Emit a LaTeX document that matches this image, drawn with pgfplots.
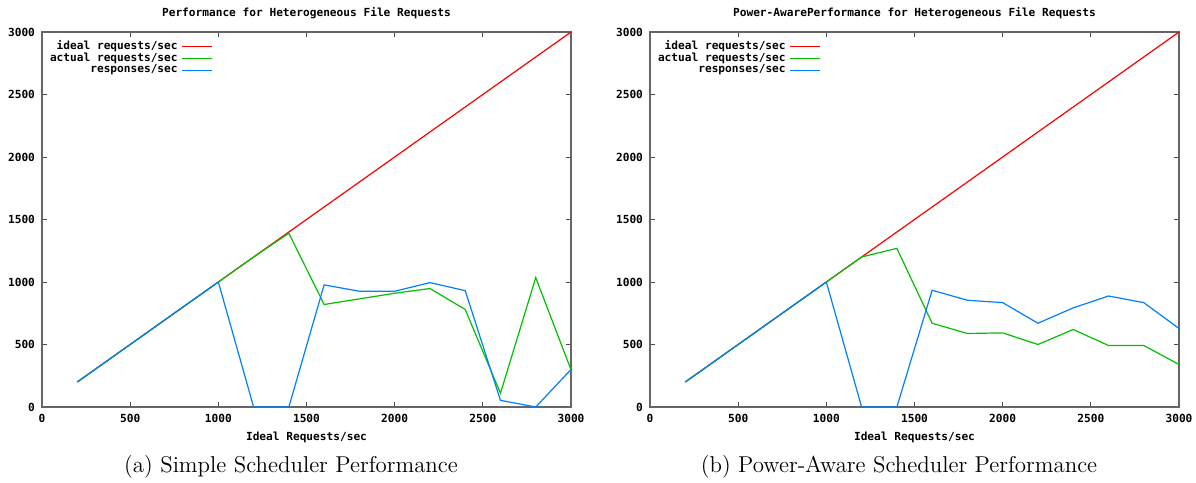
\documentclass[border=0pt]{standalone}
\usepackage{fontspec}
\usepackage{pgfplots}
\usepackage{pgfplotstable}
\pgfplotsset{compat=1.18}
\newfontfamily\gpfam{DejaVu Sans Mono}
\newcommand\gpf{\gpfam\bfseries\fontsize{5.6}{6.5}\selectfont}
\definecolor{gpred}{RGB}{255,0,0}
\definecolor{gpgreen}{RGB}{0,192,0}
\definecolor{gpblue}{RGB}{0,128,255}

\pgfplotstableread{
x ideal actual resp
200 200 200 200
400 400 400 400
600 600 600 600
800 800 800 800
1000 1000 1000 1000
1200 1200 1200 0
1400 1400 1390 0
1600 1600 820 977
1800 1800 865 926
2000 2000 910 926
2200 2200 948 995
2400 2400 780 931
2600 2600 110 53
2800 2800 1035 0
3000 3000 298 300
}\simpletab

\pgfplotstableread{
x ideal actual resp
200 200 200 200
400 400 400 400
600 600 600 600
800 800 800 800
1000 1000 1000 1000
1200 1200 1200 0
1400 1400 1269 0
1600 1600 670 934
1800 1800 588 854
2000 2000 593 835
2200 2200 500 670
2400 2400 620 793
2600 2600 492 888
2800 2800 492 835
3000 3000 340 628
}\powertab

\pgfplotsset{
  gpaxis/.style={
    scale only axis,
    width=264.5bp, height=187.5bp,
    xmin=0, xmax=3000, ymin=0, ymax=3000,
    xtick={0,500,1000,1500,2000,2500,3000},
    ytick={0,500,1000,1500,2000,2500,3000},
    xticklabels={0,500,1000,1500,2000,2500,3000},
    yticklabels={0,500,1000,1500,2000,2500,3000},
    tick label style={font=\gpf},
    axis line style={black!60, line width=0.6bp},
    tick style={black!70, line width=0.5bp},
    tick align=inside,
    major tick length=2.5bp,
    xtick pos=both, ytick pos=both,
    xticklabel pos=left, yticklabel pos=left,
    title style={font=\gpf, at={(axis description cs:0.5,1)}, anchor=center, yshift=3.5bp},
    x label style={font=\gpf, at={(axis description cs:0.5,0)}, anchor=center, yshift=-15bp},
    legend style={draw=none, fill=none, at={(0.335,1.0)}, anchor=north east, font=\gpf,
      legend cell align=right, row sep=-3.75bp},
    legend image code/.code={\draw[#1] (0bp,0bp) -- (15bp,0bp);},
    legend plot pos=right,
    every axis plot/.append style={line width=0.6bp, no markers},
    clip=true,
  }
}

\begin{document}
\begin{tikzpicture}
\path[use as bounding box] (-21bp,-38bp) rectangle (577bp,203.5bp);
\begin{axis}[gpaxis, at={(0,0)}, anchor=south west,
  title={Performance for Heterogeneous File Requests},
  xlabel={Ideal Requests/sec}]
\addplot[gpred] table[x=x,y=ideal] {\simpletab};
\addlegendentry{ideal requests/sec}
\addplot[gpgreen] table[x=x,y=actual] {\simpletab};
\addlegendentry{actual requests/sec}
\addplot[gpblue] table[x=x,y=resp] {\simpletab};
\addlegendentry{responses/sec}
\end{axis}
\begin{axis}[gpaxis, at={(304bp,0)}, anchor=south west,
  title={Power-AwarePerformance for Heterogeneous File Requests},
  xlabel={Ideal Requests/sec}]
\addplot[gpred] table[x=x,y=ideal] {\powertab};
\addlegendentry{ideal requests/sec}
\addplot[gpgreen] table[x=x,y=actual] {\powertab};
\addlegendentry{actual requests/sec}
\addplot[gpblue] table[x=x,y=resp] {\powertab};
\addlegendentry{responses/sec}
\end{axis}
\node[font=\fontsize{11.5}{13}\selectfont, anchor=center] at (124.5bp,-30bp) {(a) Simple Scheduler Performance};
\node[font=\fontsize{11.5}{13}\selectfont, anchor=center] at (428.5bp,-30bp) {(b) Power-Aware Scheduler Performance};
\end{tikzpicture}
\end{document}
